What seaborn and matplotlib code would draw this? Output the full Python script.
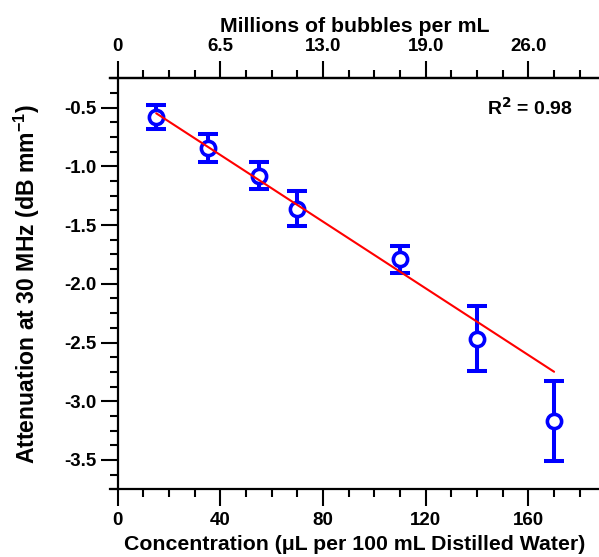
import numpy as np
import pandas as pd
import matplotlib
matplotlib.use("Agg")
import matplotlib.pyplot as plt
from matplotlib.ticker import MultipleLocator, FixedLocator, FormatStrFormatter, FixedFormatter
import seaborn as sns

# ---- data ----
concentration = [15, 35, 55, 70, 110, 140, 170]
attenuation = [-0.58, -0.845, -1.078, -1.36, -1.79, -2.466, -3.169]
attenuation_err = [0.105, 0.117, 0.118, 0.149, 0.115, 0.273, 0.341]
fit_x = [15, 170]
fit_y = [-0.548, -2.749]
bottom_ticks = [0, 40, 80, 120, 160]
top_tick_labels = ["0", "6.5", "13.0", "19.0", "26.0"]
r2_text = "R$^\\mathbf{2}$ = 0.98"

sns.set_style("ticks")
plt.rcParams["font.family"] = ["Liberation Sans", "DejaVu Sans"]
plt.rcParams["font.weight"] = "bold"
plt.rcParams["axes.labelweight"] = "bold"
plt.rcParams["axes.unicode_minus"] = False
plt.rcParams["mathtext.default"] = "regular"
for key in ["text.color", "axes.labelcolor", "xtick.color", "ytick.color",
            "xtick.labelcolor", "ytick.labelcolor", "axes.edgecolor"]:
    plt.rcParams[key] = "black"

df = pd.DataFrame({"x": concentration, "y": attenuation, "err": attenuation_err})
fit = pd.DataFrame({"x": fit_x, "y": fit_y})

fig = plt.figure(figsize=(5.99, 5.57), dpi=100)
ax = fig.add_axes([110 / 599, 1 - 489.3 / 557, 1 - 110 / 599, (489.3 - 78.3) / 557])

blue = "#0000ff"
ax.errorbar(df["x"], df["y"], yerr=df["err"], fmt="none", ecolor=blue,
            elinewidth=2.9, capsize=7.2, capthick=2.9, zorder=2)
sns.scatterplot(data=df, x="x", y="y", ax=ax, marker="o", s=105,
                facecolor="white", edgecolor=blue, linewidth=2.6, zorder=3)
sns.lineplot(data=fit, x="x", y="y", ax=ax, color="#ff0000", linewidth=1.5, zorder=4)

ax.set_xlim(-3, 187.5)
ax.set_ylim(-3.75, -0.25)

ax.spines["left"].set_position(("data", 0))
ax.spines["right"].set_visible(False)
for s in ["left", "bottom", "top"]:
    ax.spines[s].set_linewidth(1.6)
    ax.spines[s].set_color("black")

ax.xaxis.set_major_locator(FixedLocator(bottom_ticks))
ax.xaxis.set_minor_locator(MultipleLocator(10))
ax.yaxis.set_major_locator(MultipleLocator(0.5))
ax.yaxis.set_minor_locator(MultipleLocator(0.125))
ax.yaxis.set_major_formatter(FormatStrFormatter("%.1f"))

ax.tick_params(which="major", length=12, width=1.5, labelsize=13.5, pad=3, color="black",
               labelcolor="black")
ax.tick_params(axis="x", which="major", pad=4)
ax.tick_params(which="minor", length=6, width=1.5, color="black")
for lab in ax.get_xticklabels() + ax.get_yticklabels():
    lab.set_fontweight("bold")

ax.set_xlabel("Concentration (\u03bcL per 100 mL Distilled Water)", fontsize=15.3,
              fontweight="bold", labelpad=5, color="black")
ax.set_ylabel("Attenuation at 30 MHz (dB mm$^{-1}$)", fontsize=16.6, fontweight="bold",
              color="black")
ax.yaxis.set_label_coords(42 / 599, 0.49, transform=fig.transFigure)

top = ax.secondary_xaxis("top")
top.xaxis.set_major_locator(FixedLocator(bottom_ticks))
top.xaxis.set_major_formatter(FixedFormatter(top_tick_labels))
top.xaxis.set_minor_locator(MultipleLocator(10))
top.tick_params(which="major", length=12, width=1.5, labelsize=13.5, pad=5,
                color="black", labelcolor="black")
top.tick_params(which="minor", length=6, width=1.5, color="black")
top.spines["top"].set_linewidth(1.6)
top.spines["top"].set_color("black")
for lab in top.xaxis.get_ticklabels():
    lab.set_fontweight("bold")
top.set_xlabel("Millions of bubbles per mL", fontsize=15.3, fontweight="bold", labelpad=4,
               color="black")

ax.text(0.947, 0.928, r2_text, transform=ax.transAxes, ha="right", va="center",
        fontsize=14, fontweight="bold", color="black")

if ax.get_legend():
    ax.get_legend().remove()

fig.savefig("out.png", dpi=100)
